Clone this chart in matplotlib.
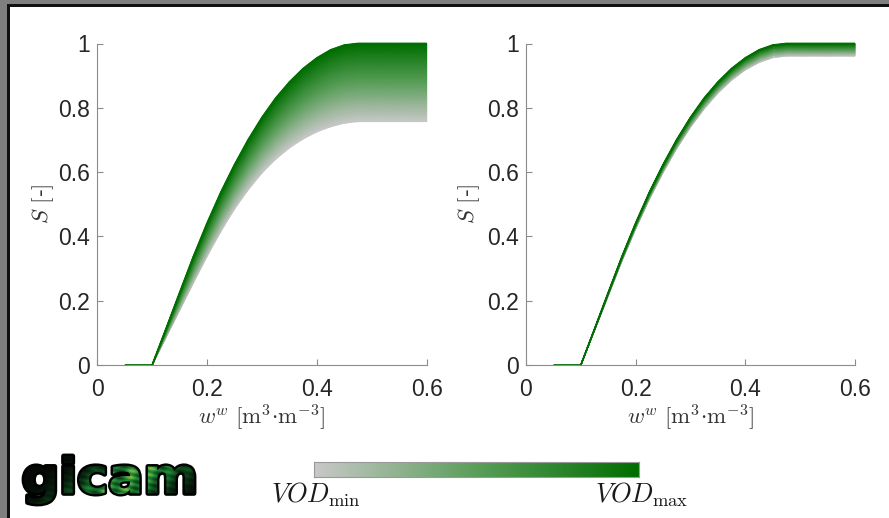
import numpy as np
import matplotlib
matplotlib.use("Agg")
import matplotlib.pyplot as plt
from matplotlib.colors import LinearSegmentedColormap
from matplotlib.patches import Rectangle, PathPatch
from matplotlib.textpath import TextPath
from matplotlib.font_manager import FontProperties
from matplotlib.transforms import Affine2D

# soil moisture grid [m3/m3]
w = [0.05, 0.10, 0.125, 0.15, 0.175, 0.20, 0.225, 0.25, 0.275, 0.30, 0.325,
     0.35, 0.375, 0.40, 0.425, 0.45, 0.475, 0.50, 0.55, 0.60]
# S at VOD_max (same in both panels)
s_top = [0.0, 0.0, 0.112, 0.225, 0.337, 0.441, 0.537, 0.623, 0.701, 0.770, 0.830,
         0.880, 0.922, 0.955, 0.980, 0.995, 1.0, 1.0, 1.0, 1.0]
# S at VOD_min, left panel
s_low_left = [0.0, 0.0, 0.085, 0.170, 0.255, 0.338, 0.415, 0.485, 0.545, 0.597, 0.640,
              0.675, 0.703, 0.725, 0.741, 0.752, 0.757, 0.757, 0.757, 0.757]
# S at VOD_min, right panel
s_low_right = [0.0, 0.0, 0.108, 0.216, 0.324, 0.424, 0.516, 0.599, 0.674, 0.740, 0.797,
               0.846, 0.886, 0.918, 0.941, 0.956, 0.961, 0.961, 0.961, 0.961]

xticks = [0, 0.2, 0.4, 0.6]
xticklabels = ["0", "0.2", "0.4", "0.6"]
yticks = [0, 0.2, 0.4, 0.6, 0.8, 1]
yticklabels = ["0", "0.2", "0.4", "0.6", "0.8", "1"]

GREY = "#c8c8c8"
GREEN = "#006e00"
cmap = LinearSegmentedColormap.from_list("vod", [GREY, "#5a9e5a", GREEN])

plt.rcParams["mathtext.fontset"] = "cm"
plt.rcParams["font.family"] = ["Liberation Sans", "DejaVu Sans"]

W, H = 889, 518
fig = plt.figure(figsize=(W / 100, H / 100), dpi=100)
fig.patch.set_facecolor("white")


def band(ax, lo, hi, lab_x):
    x = np.array(w)
    lo = np.array(lo)
    hi = np.array(hi)
    t = np.linspace(0, 1, 30)[:, None]
    X = np.repeat(x[None, :], len(t), axis=0)
    Y = lo[None, :] + t * (hi - lo)[None, :]
    C = np.repeat(t, len(x), axis=1)
    ax.pcolormesh(X, Y, C, cmap=cmap, shading="gouraud", vmin=0, vmax=1,
                  clip_on=False)
    ax.plot(x, hi, color=GREEN, lw=1.3, clip_on=False, solid_capstyle="butt")
    ax.set_xlim(0, 0.6)
    ax.set_ylim(0, 1)
    for s in ["top", "right"]:
        ax.spines[s].set_visible(False)
    for s in ["left", "bottom"]:
        ax.spines[s].set_color("#8c8c8c")
        ax.spines[s].set_linewidth(0.8)
    ax.set_xticks(xticks)
    ax.set_xticklabels(xticklabels)
    ax.set_yticks(yticks)
    ax.set_yticklabels(yticklabels)
    ax.tick_params(direction="in", length=4, width=0.8, color="#8c8c8c",
                   labelsize=16.5, labelcolor="#262626")
    ax.tick_params(axis="x", pad=9)
    ax.tick_params(axis="y", pad=5)
    ax.set_xlabel(r"$w^w\ [\mathrm{m}^3{\cdot}\mathrm{m}^{-3}]$", fontsize=16.5,
                  color="#333333", va="center")
    ax.xaxis.set_label_coords(0.5, -0.165)
    ax.set_ylabel(r"$S\ [$-$]$", fontsize=16.5, color="#333333", va="center")
    ax.yaxis.set_label_coords(lab_x, 0.5)
    ax.set_facecolor("none")


ax1 = fig.add_axes([97.3 / W, 1 - 365 / H, 329.4 / W, 321.5 / H])
band(ax1, s_low_left, s_top, -0.165)
ax2 = fig.add_axes([526 / W, 1 - 365 / H, 329 / W, 321.5 / H])
band(ax2, s_low_right, s_top, -0.172)

# colour bar
cax = fig.add_axes([314 / W, 1 - 476.7 / H, 325 / W, 15 / H])
cax.imshow(np.linspace(0, 1, 256)[None, :], cmap=cmap, aspect="auto",
           extent=[0, 1, 0, 1])
cax.set_xticks([])
cax.set_yticks([])
for s in cax.spines.values():
    s.set_color("#999999")
    s.set_linewidth(0.8)
fig.text(271 / W, 1 - 503 / H, r"$VOD_{\mathrm{min}}$", fontsize=19,
         color="#1a1a1a", ha="left", va="baseline")
fig.text(688 / W, 1 - 503 / H, r"$VOD_{\mathrm{max}}$", fontsize=19,
         color="#1a1a1a", ha="right", va="baseline")

# logo
lax = fig.add_axes([24 / W, 1 - 504 / H, 170 / W, 48 / H])
lax.set_xlim(0, 1)
lax.set_ylim(0, 1)
lax.axis("off")
tp = TextPath((0, 0), "gicam", prop=FontProperties(family="DejaVu Sans", weight="bold"))
bb = tp.get_extents()
path = Affine2D().translate(-bb.x0, -bb.y0).scale(1 / bb.width, 1 / bb.height).transform_path(tp)
outline = PathPatch(path, fc="black", ec="black", lw=3.5, joinstyle="round",
                    transform=lax.transData, clip_on=False)
lax.add_patch(outline)
patch = PathPatch(path, fc="none", ec="none", transform=lax.transData)
lax.add_patch(patch)
gx, gy = np.meshgrid(np.linspace(0, 1, 200), np.linspace(0, 1, 60))
tex = np.exp(-((gx - 0.35 * gy - 0.45) / 0.28) ** 2) * (0.65 + 0.35 * np.sin(45 * gx + 20 * gy) * np.sin(25 * gy - 10 * gx))
logo_cmap = LinearSegmentedColormap.from_list("logo", ["#050805", "#0e4a1c", "#1f8a3a", "#8fc040"])
im = lax.imshow(tex, cmap=logo_cmap, extent=[0, 1, 0, 1], aspect="auto", origin="lower",
                vmin=0, vmax=1, zorder=3)
im.set_clip_path(patch)

# frame
fig.add_artist(Rectangle((0, 0), 7 / W, 1, transform=fig.transFigure, color="#7f7f7f", lw=0))
fig.add_artist(Rectangle((0, 1 - 4 / H), 1, 4 / H, transform=fig.transFigure, color="#7f7f7f", lw=0))
fig.add_artist(Rectangle((7 / W, 0), 2.5 / W, 1 - 4 / H, transform=fig.transFigure, color="#111111", lw=0))
fig.add_artist(Rectangle((7 / W, 1 - 7 / H), 1, 3 / H, transform=fig.transFigure, color="#111111", lw=0))

fig.savefig("out.png", dpi=100, facecolor="white")
